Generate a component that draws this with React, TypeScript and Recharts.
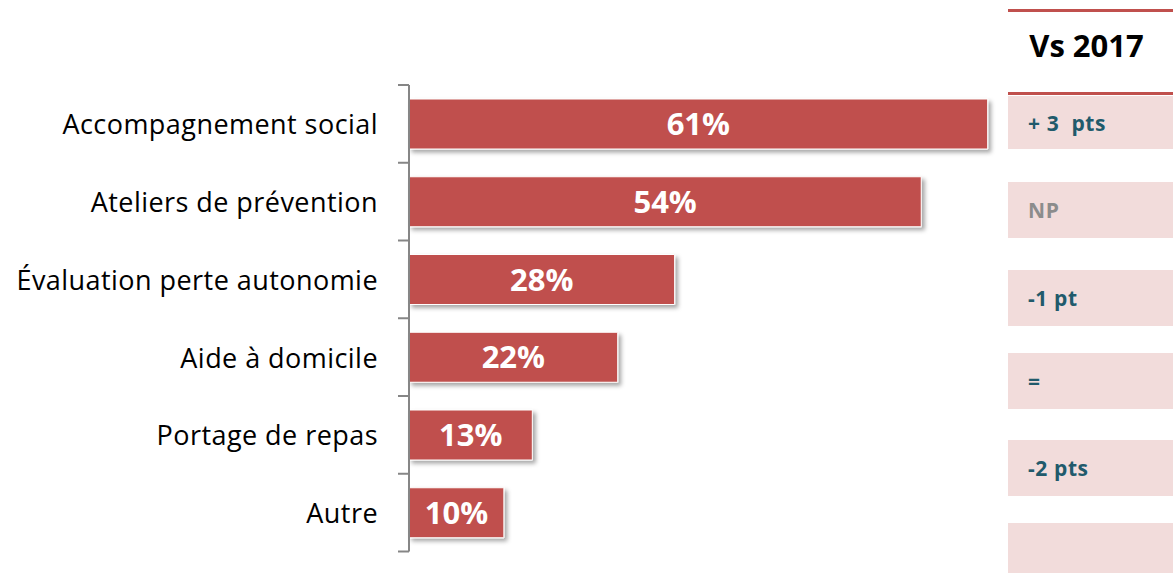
import React from "react"
import { BarChart, Bar, XAxis, YAxis, LabelList } from "recharts"

// Categories and values
const categories = [
  "Accompagnement social",
  "Ateliers de prévention",
  "Évaluation perte autonomie",
  "Aide à domicile",
  "Portage de repas",
  "Autre",
]
const values = [61, 54, 28, 22, 13, 10]

// Right-hand comparison column
const vsTitle = "Vs 2017"
const vsLabels = ["+ 3  pts", "NP", "-1 pt", "=", "-2 pts", ""]
const vsTops = [93, 182, 270, 353, 440, 523]

const data = categories.map((name, i) => ({ name, value: values[i] }))

const FONT = "'Open Sans', Lato, sans-serif"
const AXIS_X = 409
const PLOT_TOP = 85
const PLOT_BOTTOM = 551.5
const BAND = (PLOT_BOTTOM - PLOT_TOP) / categories.length

const CategoryTick = (props: any) => {
  const { y, payload, index } = props
  const top = y - BAND / 2
  const last = index === categories.length - 1
  return (
    <g>
      <line x1={AXIS_X - 11} x2={AXIS_X} y1={top} y2={top} stroke="#868686" strokeWidth={2} />
      {last && (
        <line x1={AXIS_X - 11} x2={AXIS_X} y1={top + BAND} y2={top + BAND} stroke="#868686" strokeWidth={2} />
      )}
      <text
        x={378}
        y={y}
        textAnchor="end"
        dominantBaseline="central"
        fontFamily={FONT}
        fontSize={27}
        letterSpacing={0.45}
        fill="#000"
      >
        {payload.value}
      </text>
    </g>
  )
}

export default function App() {
  return (
    <div style={{ position: "absolute", left: 0, top: 0, width: 1173, height: 573, background: "#fff", overflow: "hidden" }}>
      <BarChart
        width={1000}
        height={573}
        data={data}
        layout="vertical"
        margin={{ top: PLOT_TOP, right: 0, bottom: 573 - PLOT_BOTTOM, left: 0 }}
      >
        <defs>
          <filter id="barShadow" x="-5%" y="-20%" width="115%" height="160%">
            <feDropShadow dx="3" dy="3" stdDeviation="2" floodColor="#000" floodOpacity="0.35" />
          </filter>
        </defs>
        <XAxis type="number" hide domain={[0, 62.3]} />
        <YAxis
          type="category"
          dataKey="name"
          width={AXIS_X}
          axisLine={{ stroke: "#868686", strokeWidth: 2 }}
          tickLine={false}
          tick={<CategoryTick />}
          interval={0}
        />
        <Bar
          dataKey="value"
          fill="#C0504D"
          barSize={50}
          stroke="#fff"
          strokeWidth={1}
          filter="url(#barShadow)"
          isAnimationActive={false}
        >
          <LabelList
            dataKey="value"
            position="center"
            formatter={(v: any) => `${v}%`}
            fill="#fff"
            fontFamily={FONT}
            fontWeight="bold"
            fontSize={31}
          />
        </Bar>
      </BarChart>

      <div style={{ position: "absolute", left: 1008, top: 9, width: 165, height: 3, background: "#C0504D" }} />
      <div
        style={{
          position: "absolute",
          left: 1004,
          top: 12,
          width: 165,
          height: 66,
          display: "flex",
          alignItems: "center",
          justifyContent: "center",
          fontFamily: FONT,
          fontWeight: "bold",
          fontSize: 31,
          color: "#000",
        }}
      >
        {vsTitle}
      </div>
      <div style={{ position: "absolute", left: 1008, top: 92, width: 165, height: 3, background: "#C0504D" }} />
      {vsLabels.map((label, i) => (
        <div
          key={i}
          style={{
            position: "absolute",
            left: 1008,
            top: vsTops[i] + (i === 0 ? 3 : 0),
            width: 165,
            height: i === 5 ? 573 - vsTops[i] : 56 - (i === 0 ? 3 : 0),
            background: "#F2DCDB",
            display: "flex",
            alignItems: "center",
            paddingLeft: 20,
            boxSizing: "border-box",
            fontFamily: FONT,
            fontWeight: "bold",
            fontSize: 21,
            letterSpacing: 0.6,
            color: label === "NP" ? "#8C8C8C" : "#215A6B",
            whiteSpace: "pre",
          }}
        >
          {label}
        </div>
      ))}
    </div>
  )
}
